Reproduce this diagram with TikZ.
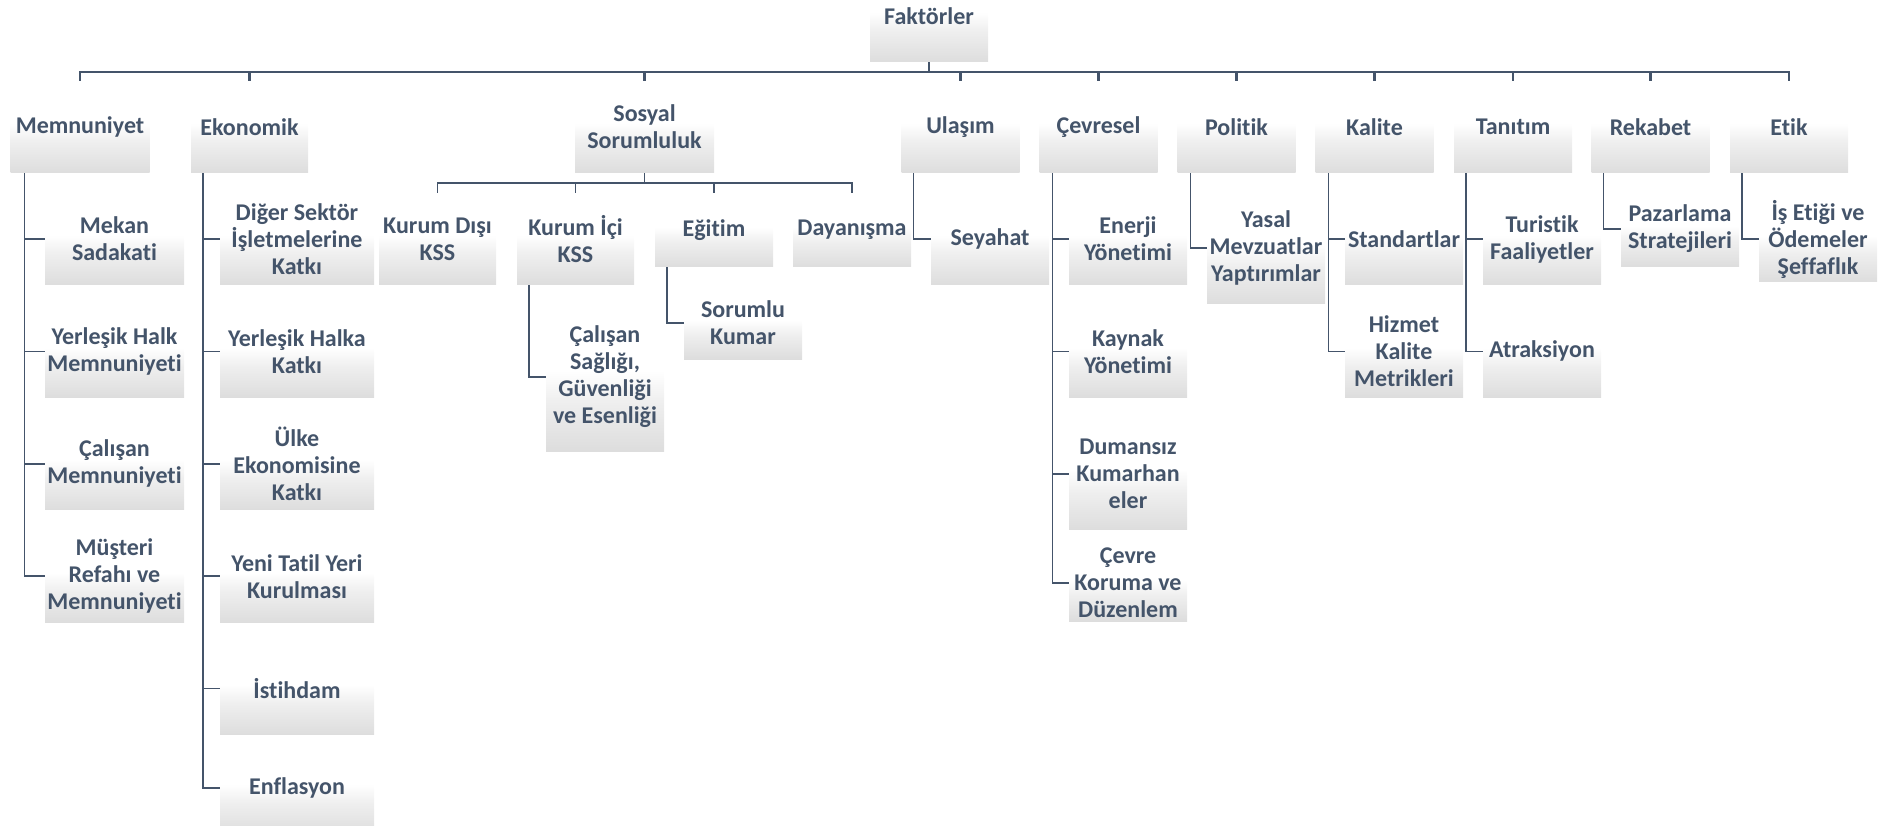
\documentclass[tikz,border=0pt]{standalone}
\usepackage{fontspec}
\setmainfont{Carlito}[RawFeature={-liga;-clig;-calt;-dlig}]
\usetikzlibrary{positioning,chains}
\definecolor{koyu}{HTML}{44546A}
\definecolor{gri1}{HTML}{DDDDDD}
\definecolor{gri2}{HTML}{EFEFEF}
\pgfdeclareverticalshading{kutugrad}{100bp}{color(0bp)=(gri1); color(25bp)=(gri1); color(42bp)=(gri2); color(52bp)=(white); color(100bp)=(white)}

\begin{document}
\begin{tikzpicture}[x=1pt,y=-1pt,
  every node/.style={shade,shading=kutugrad,align=center,inner sep=0pt,
    text=koyu,font=\fontsize{24}{27}\selectfont\bfseries,
    minimum width=118pt,minimum height=92pt},
  genis/.style={minimum width=139pt},
  cokgenis/.style={minimum width=154pt},
  kisa/.style={minimum height=74pt},
  uzun/.style={minimum height=112pt},
  conn/.style={draw=koyu,line width=1.6pt},
  anabus/.style={draw=koyu,line width=2.2pt}
]
\useasboundingbox (0,0) rectangle (1887,826);
\clip (0,0) rectangle (1887,826);

% the root
\node (f) at (929,16) {Faktörler};

% the factors
\node[genis] (k1) at (80,127) {Memnuniyet};
\node[minimum width=117pt] (k2) at (249.5,127) {Ekonomik};
\node[genis] (k3) at (644.5,127) {Sosyal\\Sorumluluk};
\foreach \i/\x/\t in {4/960.5/Ulaşım,5/1098.5/Çevresel,6/1236.5/Politik,7/1374.5/Kalite,8/1513/Tanıtım,9/1650.5/Rekabet,10/1789/Etik}
  \node (k\i) at (\x,127) {\t};

% Memnuniyet
\begin{scope}[start chain=going below,node distance=20pt]
\node[genis,on chain] (m1) at (114.5,239) {Mekan\\Sadakati};
\foreach \j/\t in {2/{Yerleşik Halk\\Memnuniyeti},3/{Çalışan\\Memnuniyeti},4/{Müşteri\\Refahı ve\\Memnuniyeti}}
  \node[genis,on chain] (m\j) {\t};
\end{scope}

% Ekonomik
\begin{scope}[start chain=going below,node distance=20pt]
\node[cokgenis,on chain] (e1) at (297,239) {Diğer Sektör\\İşletmelerine\\Katkı};
\foreach \j/\t in {2/{Yerleşik Halka\\Katkı},3/{Ülke\\Ekonomisine\\Katkı},4/{Yeni Tatil Yeri\\Kurulması},5/İstihdam}
  \node[cokgenis,on chain] (e\j) {\t};
\end{scope}
\node[cokgenis] (e6) at (297,788) {Enflasyon};

% Sosyal Sorumluluk
\node[minimum width=117pt] (s1) at (437.5,239) {Kurum Dışı\\KSS};
\node[minimum width=117pt] (s2) at (575.5,239) {Kurum İçi\\KSS};
\node[kisa] (s3) at (714,230) {Eğitim};
\node[kisa] (s4) at (852,230) {Dayanışma};
\node[minimum height=148pt] (s5) at (605,377) {Çalışan\\Sağlığı,\\Güvenliği\\ve Esenliği};
\node[minimum height=72pt] (s6) at (743,323) {Sorumlu\\Kumar};

% Ulaşım, Politik, Rekabet, Etik
\node (u1) at (990,239) {Seyahat};
\node[uzun] (p1) at (1266,248) {Yasal\\Mevzuatlar\\Yaptırımlar};
\node[minimum height=76pt] (r1) at (1680,229) {Pazarlama\\Stratejileri};
\node[minimum height=86pt] (h1) at (1818,239) {İş Etiği ve\\Ödemeler\\Şeffaflık};

% Çevresel
\begin{scope}[start chain=going below,node distance=20pt]
\node[on chain] (c1) at (1128,239) {Enerji\\Yönetimi};
\node[on chain] (c2) {Kaynak\\Yönetimi};
\node[uzun,on chain] (c3) {Dumansız\\Kumarhan\\eler};
\end{scope}
\node[minimum height=76pt] (c4) at (1128,583) {Çevre\\Koruma ve\\Düzenlem};

% Kalite and Tanıtım
\begin{scope}[start chain=going below,node distance=20pt]
\node[on chain] (q1) at (1404,239) {Standartlar};
\node[on chain] (q2) {Hizmet\\Kalite\\Metrikleri};
\end{scope}
\begin{scope}[start chain=going below,node distance=20pt]
\node[on chain] (t1) at (1542,239) {Turistik\\Faaliyetler};
\node[on chain] (t2) {Atraksiyon};
\end{scope}

% the edges
\foreach \i in {1,...,10}
  \draw[anabus] (f.south) -- ++(0,10) -| (k\i.north);
\foreach \i in {1,...,4}
  \draw[conn] (k3.south) -- ++(0,10) -| (s\i.north);
\foreach \j in {1,...,4}
  \draw[conn] ([xshift=14pt]k1.south west) |- (m\j.west);
\foreach \j in {1,...,6}
  \draw[conn] ([xshift=12pt]k2.south west) |- (e\j.west);
\draw[conn] ([xshift=12pt]s2.south west) |- (s5.west);
\draw[conn] ([xshift=12pt]s3.south west) |- (s6.west);
\draw[conn] ([xshift=12pt]k4.south west) |- (u1.west);
\foreach \j in {1,...,4}
  \draw[conn] ([xshift=13pt]k5.south west) |- (c\j.west);
\draw[conn] ([xshift=13pt]k6.south west) |- (p1.west);
\foreach \j in {1,2}
  \draw[conn] ([xshift=13pt]k7.south west) |- (q\j.west);
\foreach \j in {1,2}
  \draw[conn] ([xshift=12pt]k8.south west) |- (t\j.west);
\draw[conn] ([xshift=12pt]k9.south west) |- (r1.west);
\draw[conn] ([xshift=12pt]k10.south west) |- (h1.west);

\end{tikzpicture}
\end{document}
